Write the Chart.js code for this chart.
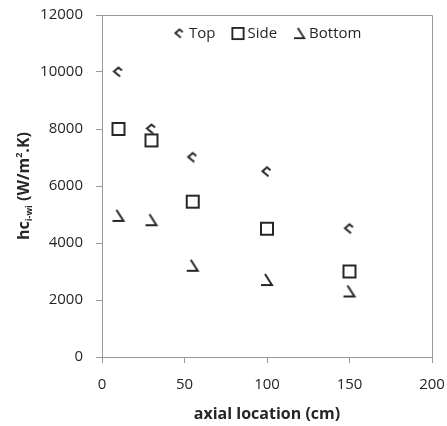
<!DOCTYPE html>
<html>
<head>
<meta charset="utf-8">
<script src="https://cdn.jsdelivr.net/npm/chart.js@4/dist/chart.umd.min.js"></script>
<style>
  html, body { margin: 0; padding: 0; background: #fff; }
</style>
</head>
<body>
<canvas id="chart" width="447" height="426"></canvas>
<script>
const axialCm = [10, 30, 55, 100, 150];
const topVals = [10000, 8000, 7000, 6500, 4500];
const sideVals = [8000, 7600, 5450, 4500, 3000];
const bottomVals = [4950, 4800, 3200, 2700, 2300];
const seriesNames = ['Top', 'Side', 'Bottom'];

const ink = '#262626';
const axisGray = '#9a9a9a';
const font = '"Open Sans", sans-serif';

// little marker images
function marker(draw) {
  const c = document.createElement('canvas');
  c.width = 16; c.height = 16;
  const g = c.getContext('2d');
  g.strokeStyle = ink;
  g.lineWidth = 2;
  g.beginPath();
  draw(g);
  g.stroke();
  return c;
}

const topMark = marker(g => {
  g.moveTo(9.5, 12.5);
  g.lineTo(3.5, 7.5);
  g.lineTo(8, 3.5);
  g.lineTo(11.5, 6.5);
});
const sideMark = marker(g => {
  g.rect(2, 2, 12, 12);
});
const bottomMark = marker(g => {
  g.moveTo(6, 2);
  g.lineTo(13, 13);
  g.lineTo(2, 13);
});
const marks = [topMark, sideMark, bottomMark];

const toPts = vals => vals.map((v, i) => ({ x: axialCm[i], y: v }));

const extrasPlugin = {
  id: 'extras',
  afterDraw(chart) {
    const { ctx, chartArea: a } = chart;
    ctx.save();
    // frame top + right
    ctx.strokeStyle = axisGray;
    ctx.lineWidth = 1;
    ctx.beginPath();
    ctx.moveTo(a.left, a.top + 0.5);
    ctx.lineTo(a.right + 0.5, a.top + 0.5);
    ctx.lineTo(a.right + 0.5, a.bottom);
    ctx.stroke();

    // legend inside plot, top centre
    ctx.font = '15px ' + font;
    ctx.fillStyle = ink;
    ctx.textBaseline = 'middle';
    const gap = 17, markW = 15, ly = a.top + 19;
    let lx = 174;
    seriesNames.forEach((n, i) => {
      ctx.drawImage(marks[i], lx - 2, ly - 8, 15, 15);
      lx += markW;
      ctx.fillText(n, lx, ly);
      lx += ctx.measureText(n).width + gap;
    });

    // y title with sub/superscript
    ctx.translate(23, (a.top + a.bottom) / 2);
    ctx.rotate(-Math.PI / 2);
    ctx.textBaseline = 'alphabetic';
    const parts = [
      ['hc', 'bold 16px ' + font, 0],
      ['i-wi', 'bold 9px ' + font, 3],
      [' (W/m', 'bold 16px ' + font, 0],
      ['2', 'bold 9px ' + font, -7],
      ['.K)', 'bold 16px ' + font, 0]
    ];
    let w = 0;
    parts.forEach(p => { ctx.font = p[1]; w += ctx.measureText(p[0]).width; });
    let x = -w / 2;
    parts.forEach(p => {
      ctx.font = p[1];
      ctx.fillText(p[0], x, 6 + p[2]);
      x += ctx.measureText(p[0]).width;
    });
    ctx.restore();
  }
};

new Chart(document.getElementById('chart'), {
  type: 'scatter',
  data: {
    datasets: seriesNames.map((n, i) => ({
      label: n,
      data: toPts([topVals, sideVals, bottomVals][i]),
      pointStyle: marks[i]
    }))
  },
  options: {
    responsive: false,
    animation: false,
    layout: { padding: { left: 0, right: 15, top: 15, bottom: 0 } },
    scales: {
      x: {
        min: 0, max: 200,
        ticks: { stepSize: 50, color: ink, font: { family: font, size: 15 }, padding: 13, maxRotation: 0 },
        grid: { drawOnChartArea: false, color: axisGray, tickLength: 6 },
        border: { color: axisGray },
        title: { display: true, text: 'axial location (cm)', color: ink, font: { family: font, size: 16, weight: 'bold' }, padding: { top: 0, bottom: 2 } },
        afterFit(s) { s.height = 69; s.paddingLeft = 0; s.paddingRight = 0; }
      },
      y: {
        min: 0, max: 12000,
        ticks: { stepSize: 2000, color: ink, font: { family: font, size: 15 }, padding: 13, callback: v => String(v) },
        grid: { drawOnChartArea: false, color: axisGray, tickLength: 6 },
        border: { color: axisGray },
        afterFit(s) { s.width = 102; s.paddingTop = 0; s.paddingBottom = 0; }
      }
    },
    plugins: {
      legend: { display: false },
      tooltip: { enabled: false }
    }
  },
  plugins: [extrasPlugin]
});
</script>
</body>
</html>
